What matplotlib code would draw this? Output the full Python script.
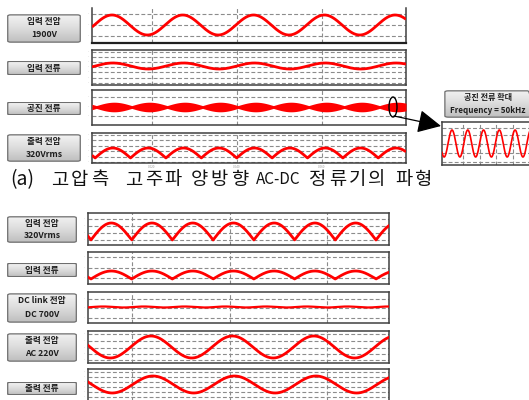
import numpy as np
import matplotlib
matplotlib.use("Agg")
import matplotlib.pyplot as plt
from matplotlib.patches import FancyBboxPatch, Ellipse, FancyArrowPatch

plt.rcParams['font.family'] = ['Noto Sans CJK KR', 'DejaVu Sans']

W, H = 529, 400
fig = plt.figure(figsize=(W / 100, H / 100), dpi=100)
fig.patch.set_facecolor('white')

# ---------------- data ----------------
LINE_FREQ_HZ = 60.0
# top section (a): time window in ms
top_window_ms = [5.87, 79.8]
top_vgrid_ms = [20, 40, 60, 80]
# bottom section (b)
bot_window_ms = [11.0, 72.6]
bot_vgrid_ms = [20, 40, 60]

top_labels = [["입력 전압", "1900V"], ["입력 전류"], ["공진 전류"], ["출력 전압", "320Vrms"]]
top_kinds = ["sine", "sine", "am", "rect"]
top_amp = [10.0, 3.0, 3.4, 10.0]
top_offset = [0.0, 0.0, 1.4, 0.0]
top_ref_ms = [10.58, 10.8, 6.9, 6.6]      # peak time (sine) or zero time (rect/am)
top_ylim = [(-18, 17), (-19, 16), (-18, 17), (-5, 25)]
top_hgrid = [[11, 0, -11], [14, 9, 4, -1, -6, -12, -17], [10, 0, -9], [23, 18, 12.5, 7, 1, -4]]

bot_labels = [["입력 전압", "320Vrms"], ["입력 전류"], ["DC link 전압", "DC 700V"],
              ["출력 전압", "AC 220V"], ["출력 전류"]]
bot_kinds = ["rect", "rect", "dc", "sine", "sine"]
bot_amp = [17.0, 8.0, 0.5, 11.0, 8.5]
bot_ref_ms = [11.6, 11.6, 12.0, 23.9, 24.3]
bot_ylim = [(-5, 27), (-5, 27), (-16, 15), (-16, 16), (-35.5, 15.5)]
bot_hgrid = [[21, 14, 7, 0], [22, 11, 1], [8, -1, -11], [13, 6, -1, -7, -13],
             [12.5, 7.5, 2.5, -2.5, -7.5, -12.5]]

inset_title = ["공진 전류 확대", "Frequency = 50kHz"]
inset_window_us = [-5.3, 112.8]
inset_period_us = 19.0
inset_peak_us = 6.75
inset_amp = 13.5
inset_ylim = (-21.5, 21.5)
inset_hgrid = [15.5, 8.5, 0, -9.5, -18]
inset_vgrid_us = [20, 40, 60, 80, 100]

caption_words = ["(a)", "고압측", "고주파", "양방향", "AC-DC", "정류기의", "파형"]

# ---------------- layout (pixels) ----------------
top_plot_rects = [(92, 8, 406, 43), (92, 50, 406, 85), (92, 90, 406, 125), (92, 133, 406, 163)]
top_btn_rects = [(7, 14, 81, 43), (7, 61, 81, 75), (7, 102, 81, 115), (7, 134, 81, 162)]
bot_plot_rects = [(88, 213, 389, 245), (88, 252, 389, 284), (88, 292, 389, 323),
                  (88, 331, 389, 363), (88, 369, 389, 420)]
bot_btn_rects = [(7, 216, 77, 243), (7, 263, 77, 277), (7, 293, 77, 323),
                 (7, 333, 77, 362), (7, 382, 77, 395)]
caption_x = [10, 51, 125, 191, 256, 309, 395]
caption_pitch = 19.8


def rect(x0, y0, x1, y1):
    return [x0 / W, 1 - y1 / H, (x1 - x0) / W, (y1 - y0) / H]


grad = np.linspace(0, 1, 64).reshape(-1, 1)
btn_cmap = matplotlib.colors.LinearSegmentedColormap.from_list(
    'b', ['#f4f4f4', '#dcdcdc', '#bdbdbd'])


def button(r, lines, fs=6.2):
    ax = fig.add_axes(rect(*r))
    ax.set_xlim(0, 1)
    ax.set_ylim(0, 1)
    ax.axis('off')
    patch = FancyBboxPatch((0.01, 0.03), 0.98, 0.94,
                           boxstyle="round,pad=0,rounding_size=0.04",
                           transform=ax.transAxes, facecolor='none',
                           edgecolor='#6e6e6e', linewidth=0.9, zorder=3)
    ax.add_patch(patch)
    im = ax.imshow(grad, extent=(0, 1, 0, 1), aspect='auto', cmap=btn_cmap,
                   origin='upper', zorder=1)
    im.set_clip_path(patch)
    n = len(lines)
    for i, s in enumerate(lines):
        y = 0.5 if n == 1 else (0.74 if i == 0 else 0.28)
        ax.text(0.5, y, s, ha='center', va='center', fontsize=fs,
                fontweight='bold', color='#1e1e1e', zorder=4)
    return ax


def panel(r, t_window, vgrid, ylim, hgrid, no_top=False):
    ax = fig.add_axes(rect(*r))
    ax.set_xlim(*t_window)
    ax.set_ylim(*ylim)
    for s in ax.spines.values():
        s.set_color('#404040')
        s.set_linewidth(1.1)
    if no_top:
        ax.spines['top'].set_visible(False)
        ax.spines['bottom'].set_linewidth(1.6)
        ax.spines['bottom'].set_color('#202020')
    for g in hgrid:
        ax.axhline(g, color='#8c8c8c', lw=0.8, ls=(0, (3.5, 2)), zorder=1)
    for g in vgrid:
        ax.axvline(g, color='#8c8c8c', lw=0.8, ls=(0, (3.5, 2)), zorder=1)
    ax.set_xticks([])
    ax.set_yticks(hgrid)
    ax.set_yticklabels(['-' for _ in hgrid], fontsize=2.5, color='#aaaaaa')
    ax.tick_params(axis='y', length=0, pad=2)
    return ax


def waveform(kind, t_ms, amp, ref, offset=0.0):
    w = 2 * np.pi * LINE_FREQ_HZ / 1000.0
    if kind == "sine":
        return amp * np.cos(w * (t_ms - ref))
    if kind == "rect":
        return amp * np.abs(np.sin(w * (t_ms - ref)))
    if kind == "am":
        return offset + amp * np.abs(np.sin(w * (t_ms - ref)))
    if kind == "dc":
        return amp * np.sin(2 * w * (t_ms - ref))
    return np.zeros_like(t_ms)


RED = '#ff0000'

# ---------- top section ----------
top_axes = []
for i in range(4):
    ax = panel(top_plot_rects[i], top_window_ms, top_vgrid_ms, top_ylim[i], top_hgrid[i],
               no_top=(i == 0))
    top_axes.append(ax)
    t = np.linspace(top_window_ms[0], top_window_ms[1], 1500)
    y = waveform(top_kinds[i], t, top_amp[i], top_ref_ms[i], top_offset[i])
    if top_kinds[i] == "am":
        ax.fill_between(t, -y, y, color=RED, lw=0, zorder=3)
    else:
        ax.plot(t, y, color=RED, lw=2.0, zorder=3, solid_capstyle='butt')
    button(top_btn_rects[i], top_labels[i])

# tiny time labels under last top panel
for g in top_vgrid_ms[:3]:
    top_axes[3].text(g, top_ylim[3][0] - 2.5, f"{g / 1000:.3f}", ha='center', va='top',
                     fontsize=2.2, color='#999999')

# ---------- inset ----------
button((444, 90, 532, 118), inset_title, fs=5.8)
axi = fig.add_axes(rect(442, 122, 540, 165))
axi.set_xlim(*inset_window_us)
axi.set_ylim(*inset_ylim)
for s in axi.spines.values():
    s.set_color('#404040')
    s.set_linewidth(1.1)
for g in inset_hgrid:
    axi.axhline(g, color='#8c8c8c', lw=0.8, ls=(0, (3.5, 2)), zorder=1)
for g in inset_vgrid_us:
    axi.axvline(g, color='#8c8c8c', lw=0.8, ls=(0, (3.5, 2)), zorder=1)
axi.set_xticks([])
axi.set_yticks([])
tu = np.linspace(inset_window_us[0], inset_window_us[1], 800)
axi.plot(tu, inset_amp * np.cos(2 * np.pi * (tu - inset_peak_us) / inset_period_us),
         color=RED, lw=1.2, zorder=3)

# ---------- caption ----------
for wd, x in zip(caption_words, caption_x):
    if wd.isascii():
        fs = 14 if wd.startswith('(') else 11
        fig.text(x / W, 1 - 180 / H, wd, ha='left', va='center', fontsize=fs,
                 color='#111111')
    else:
        for k, ch in enumerate(wd):
            fig.text((x + k * caption_pitch) / W, 1 - 180 / H, ch, ha='left',
                     va='center', fontsize=13.5, color='#111111')

# ---------- bottom section ----------
for i in range(5):
    ax = panel(bot_plot_rects[i], bot_window_ms, bot_vgrid_ms, bot_ylim[i], bot_hgrid[i])
    t = np.linspace(bot_window_ms[0], bot_window_ms[1], 1500)
    y = waveform(bot_kinds[i], t, bot_amp[i], bot_ref_ms[i])
    ax.plot(t, y, color=RED, lw=(1.6 if bot_kinds[i] == "dc" else 2.0), zorder=3)
    button(bot_btn_rects[i], bot_labels[i])

# ---------- annotation overlay (ellipse + arrow) ----------
ov = fig.add_axes([0, 0, 1, 1], facecolor='none')
ov.set_xlim(0, W)
ov.set_ylim(H, 0)
ov.axis('off')
ov.add_patch(Ellipse((393, 107), 8, 20, fill=False, edgecolor='black', lw=1.0))
ov.add_patch(FancyArrowPatch((394, 116), (441, 126),
                             arrowstyle='-|>,head_length=0.9,head_width=0.45',
                             mutation_scale=16, color='black', lw=0.9,
                             shrinkA=0, shrinkB=0))

fig.savefig("out.png", dpi=100)
